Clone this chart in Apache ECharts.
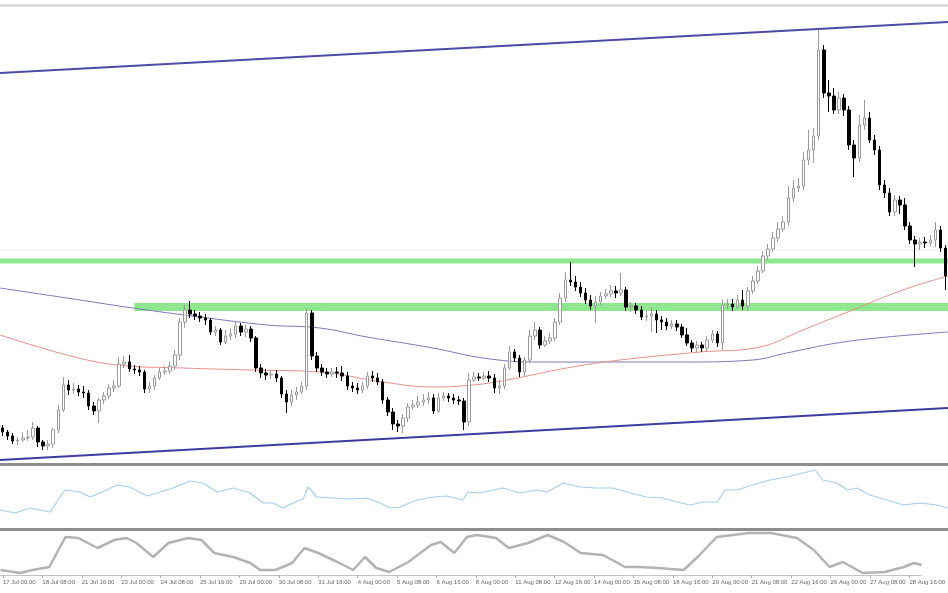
<!DOCTYPE html>
<html><head><meta charset="utf-8">
<script src="https://cdn.jsdelivr.net/npm/echarts@6/dist/echarts.min.js"></script>
<style>html,body{margin:0;padding:0;background:#fff}#c{width:948px;height:593px}</style>
</head><body><div id="c"></div>
<script>
// H4 candles (price in chart points)
const opens = [35,31,27,22,23,25,26,35,21,17,19,33,53,78,73,74,71,70,57,52,63,67,75,77,99,101,94,93,91,74,77,85,91,92,97,108,141,153,149,147,145,143,131,133,121,127,129,137,131,134,125,95,90,88,89,85,69,61,68,71,77,150,107,95,91,89,91,90,87,77,75,73,77,87,85,81,63,51,39,37,45,56,58,61,63,65,52,65,67,65,63,62,41,83,86,85,87,85,75,77,95,111,105,91,103,127,133,118,122,125,141,165,183,181,176,170,163,157,161,167,169,172,170,173,156,157,153,146,147,149,143,141,137,139,136,128,120,115,118,115,123,129,120,158,159,156,163,157,172,182,192,207,214,225,234,241,265,275,277,303,313,327,413,370,367,353,365,353,318,305,338,345,323,313,278,270,251,263,258,237,223,219,221,220,223,233,215];
const closes = [31,27,22,23,25,26,35,21,17,19,33,53,78,73,74,71,70,57,52,63,67,75,77,99,101,94,93,91,74,77,85,91,92,97,108,141,153,149,147,145,143,131,133,121,127,129,137,131,134,125,95,90,88,89,85,69,61,68,71,77,150,107,95,91,89,91,90,87,77,75,73,77,87,85,81,63,51,39,37,45,56,58,61,63,65,52,65,67,65,63,62,41,83,86,85,87,85,75,77,95,111,105,91,103,127,133,118,122,125,141,165,183,181,176,170,163,157,161,167,169,172,170,173,156,157,153,146,147,149,143,141,137,139,136,128,120,115,118,115,123,129,120,158,159,156,163,157,172,182,192,207,214,225,234,241,265,275,277,303,313,327,413,370,367,353,365,353,318,305,338,345,323,313,278,270,251,263,258,237,223,219,221,220,223,233,215,187];
const lows = [27,23,19,18,21,22,23,16,13,13,15,30,51,68,69,67,65,53,48,40,59,64,71,75,95,91,89,87,70,70,73,83,88,89,93,103,135,145,143,141,138,128,127,118,119,123,125,127,126,121,91,85,83,84,81,65,50,57,63,69,73,103,91,87,85,86,85,82,73,71,69,70,74,81,78,59,47,33,31,30,41,53,55,57,59,49,50,62,61,59,58,33,37,81,82,83,81,70,69,74,93,101,86,87,100,123,114,116,119,122,138,161,177,172,166,159,153,140,158,164,166,165,167,152,151,149,143,142,131,130,133,133,134,132,125,117,111,110,111,112,120,116,113,154,152,154,153,152,169,179,190,203,211,221,231,237,261,271,273,298,300,323,365,351,349,349,347,313,286,301,333,320,308,273,265,247,247,249,233,219,196,213,215,217,216,211,173];
const highs = [38,33,30,26,31,33,41,37,23,23,35,58,86,83,80,78,77,73,61,65,71,79,83,106,107,108,98,97,93,81,88,95,97,101,113,145,158,162,153,151,149,145,137,135,133,135,141,140,138,137,127,99,94,93,93,87,73,73,76,81,155,153,111,99,95,95,96,97,91,81,80,81,91,92,90,84,66,55,43,49,60,63,67,69,71,69,70,71,70,69,67,65,90,91,90,91,92,89,83,99,117,114,108,106,133,141,136,127,130,145,170,191,201,187,181,175,168,167,171,174,178,177,190,176,161,160,157,153,156,153,147,145,143,143,139,135,123,122,121,127,133,132,163,164,164,168,173,176,187,197,212,219,231,241,247,277,283,285,311,333,335,433,418,383,375,371,369,357,323,348,363,351,328,317,283,275,268,267,265,241,227,225,226,228,241,237,218];

// x-axis tick labels (every 8th bar)
const tickLabels = ['17 Jul 00:00','18 Jul 08:00','21 Jul 16:00','23 Jul 00:00','24 Jul 08:00','25 Jul 16:00','29 Jul 00:00','30 Jul 08:00','31 Jul 16:00','4 Aug 00:00','5 Aug 08:00','6 Aug 16:00','8 Aug 00:00','11 Aug 08:00','12 Aug 16:00','14 Aug 00:00','15 Aug 08:00','18 Aug 16:00','20 Aug 00:00','21 Aug 08:00','22 Aug 16:00','26 Aug 00:00','27 Aug 08:00','28 Aug 16:00'];

// moving averages read at sample bars: [bar, value]
const maFast = [[-0.5,128],[12.7,108],[22.6,98],[35.6,95],[48.8,93],[62.6,91],[75,81],[84.9,76],[92.8,78],[99.5,83],[111.3,95],[121.8,103],[137.6,111],[149.4,116],[157.9,133],[167.7,153],[177.6,173],[186.5,187]];
const maSlow = [[-0.5,175],[12.7,165],[25.7,155],[39,146],[52.2,138],[62.6,135],[71.9,126],[84.9,115],[94.8,105],[104.6,101],[121.8,101],[135,101],[148,103],[154.7,110],[164.6,120],[174.5,126],[186.5,131]];

// channel trend lines and horizontal levels: [bar, value]
const channelTop = [[-0.5,390],[186.5,441]];
const channelBottom = [[-0.5,3],[186.5,55]];
const levelUpper = [[-0.5,202],[186.5,202]];
const levelLower = [[26,156],[186.5,156]];
const levelFaint = [[-0.5,213],[186.5,213]];

// oscillator panels: [bar, value]
const osc1 = [[-0.5,18],[2.5,15],[5.4,20],[9.4,16],[12.3,38],[15.3,36],[17.3,31],[19.2,35],[22.6,43],[25.1,41],[28.5,32],[31.7,37],[33.6,40],[37,47],[39.5,45],[42.3,36],[45.5,40],[48.8,35],[51.4,25],[53.4,25],[55.3,20],[57.3,25],[59.3,29],[60.3,41],[62,31],[65.2,30],[68.5,29],[71.9,30],[74.5,25],[76.4,20],[78.4,21],[81.8,28],[84.9,31],[87.7,32],[90.8,28],[91.8,36],[94.2,35],[98.7,40],[102.1,35],[105.4,38],[107.4,36],[110.6,45],[113.9,41],[117.3,40],[120.4,40],[123.8,35],[127.1,31],[130.3,30],[133,26],[135.6,23],[138.2,26],[141,26],[142.5,38],[144.9,38],[148,43],[151.4,48],[154.7,51],[157.9,55],[160.3,58],[161.8,48],[164.6,45],[166.6,38],[168.5,40],[171.1,33],[174.5,28],[177.6,23],[181,25],[184.3,23],[186.5,20]];
const osc2 = [[-0.5,5],[3.5,2],[6,5],[9.4,8],[12.7,38],[15.3,37],[19.2,27],[22.6,35],[25.1,37],[27.1,32],[30.5,18],[33.6,32],[37.6,37],[40.3,35],[42.9,22],[46.8,18],[50.2,12],[52.2,5],[55.3,5],[58.7,12],[61.2,27],[64,22],[67.9,13],[71.1,5],[73.5,18],[75.8,7],[78.4,3],[82.3,13],[86.9,30],[88.9,33],[91.6,22],[94.2,38],[96.2,40],[100.1,37],[102.7,27],[106.6,32],[110.6,40],[113.9,33],[117.3,22],[121.8,20],[126.3,8],[129.1,8],[133,7],[138.2,5],[141,18],[144.9,38],[151.4,42],[155.9,42],[161.2,37],[164.6,25],[167.8,8],[170.5,13],[174.5,2],[179,3],[182.9,8],[184.9,12],[186.5,10]];

const n = opens.length;
const cats = Array.from({length: n}, (_, i) => i);
const candles = opens.map((o, i) => [o, closes[i], lows[i], highs[i]]);

const chart = echarts.init(document.getElementById('c'), null, {renderer: 'canvas'});
const hiddenVal = (grid) => ({type: 'value', gridIndex: grid, min: -0.5, max: n - 0.5, show: false});
const lineS = (data, xi, yi, color, width, z, smooth) => ({
  type: 'line', data, xAxisIndex: xi, yAxisIndex: yi, showSymbol: false, smooth: smooth || false,
  lineStyle: {color, width}, z, silent: true
});
chart.setOption({
  animation: false,
  backgroundColor: '#ffffff',
  grid: [
    {left: 0, right: 0, top: 7, height: 456},
    {left: 0, right: 0, top: 466, height: 62},
    {left: 0, right: 0, top: 531, height: 44}
  ],
  xAxis: [
    {type: 'category', gridIndex: 0, data: cats, show: false, boundaryGap: true},
    hiddenVal(0), hiddenVal(1), hiddenVal(2),
    {type: 'category', gridIndex: 2, data: cats, boundaryGap: true, position: 'bottom',
     axisLine: {show: true, lineStyle: {color: '#c4c4c4', width: 1}},
     axisTick: {show: true, interval: 7, length: 3, alignWithLabel: true, lineStyle: {color: '#aaa'}},
     axisLabel: {interval: 7, align: 'left', margin: 4, fontSize: 6, color: '#666',
       fontFamily: 'Liberation Sans', formatter: (v, i) => tickLabels[Math.round(i / 8)] || ''},
     splitLine: {show: false}}
  ],
  yAxis: [
    {type: 'value', gridIndex: 0, min: 0, max: 456, show: false},
    {type: 'value', gridIndex: 1, min: 0, max: 62, show: false},
    {type: 'value', gridIndex: 2, min: 0, max: 44, show: false}
  ],
  graphic: [
    {type: 'line', shape: {x1: 0, y1: 5.5, x2: 948, y2: 5.5}, style: {stroke: '#cfcfcf', lineWidth: 2}, z: 100},
    {type: 'line', shape: {x1: 0, y1: 464.5, x2: 948, y2: 464.5}, style: {stroke: '#8e8e8e', lineWidth: 3}, z: 100},
    {type: 'line', shape: {x1: 0, y1: 529.5, x2: 948, y2: 529.5}, style: {stroke: '#8e8e8e', lineWidth: 3}, z: 100}
  ],
  series: [
    lineS(levelFaint, 1, 0, '#ececec', 1, 1),
    lineS(levelUpper, 1, 0, '#8fe88f', 5, 2),
    lineS(levelLower, 1, 0, '#8fe88f', 8, 2),
    lineS(maSlow, 1, 0, '#7a7ab8', 1, 3, 0.4),
    lineS(maFast, 1, 0, '#e69088', 1, 3, 0.4),
    lineS(channelTop, 1, 0, '#4c4ca6', 2, 4),
    lineS(channelBottom, 1, 0, '#3c3ca0', 2, 4),
    {type: 'candlestick', xAxisIndex: 0, yAxisIndex: 0, data: candles, barWidth: 3, z: 5,
     itemStyle: {color: '#ffffff', color0: '#000000', borderColor: '#9a9a9a', borderColor0: '#000000', borderWidth: 1}},
    lineS(osc1, 2, 1, '#a3cfee', 1.2, 3),
    lineS(osc2, 3, 2, '#b3b3b3', 2.5, 3)
  ]
});
</script></body></html>
